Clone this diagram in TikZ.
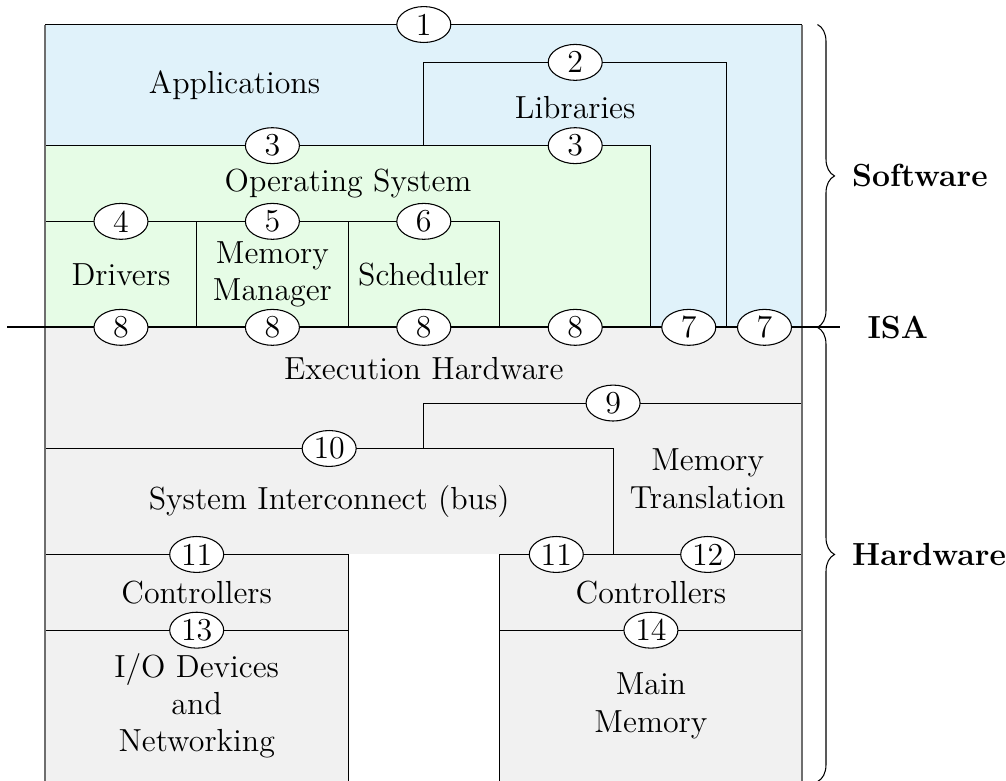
\documentclass[tikz,border=0pt]{standalone}
\usetikzlibrary{shapes.geometric,decorations.pathreplacing}
\definecolor{swblue}{RGB}{224,242,250}
\definecolor{osgreen}{RGB}{230,252,230}
\definecolor{hwgray}{RGB}{241,241,241}
\definecolor{rimgray}{RGB}{110,110,110}
\newcommand\picfont{\fontsize{12}{14}\selectfont}
\begin{document}
\begin{tikzpicture}[x=2cm,y=-2cm,font=\picfont,
  num/.style={ellipse,draw,fill=white,line width=0.4pt,inner sep=0pt,
              minimum width=20.3pt,minimum height=13.5pt},
  part/.style={align=center,inner sep=0pt},
  border/.style={line width=0.4pt},
  rim/.style={rimgray,line width=0.75pt},
  isa/.style={line width=0.8pt},
  side/.style={decorate,decoration={brace,amplitude=6.4pt},line width=0.4pt},
  tag/.style={font=\picfont\bfseries,inner sep=0pt}]
\useasboundingbox (-0.299,-0.162) rectangle (6.345,4.99);

% layer fills
\fill[swblue]  (0,0)   rectangle (5,2);
\fill[osgreen] (0,0.8) rectangle (4,2);
\fill[hwgray]  (0,2)   rectangle (5,5);
\fill[white]   (2,3.5) rectangle (3,5);

% software borders
\draw[border] (0,0) -- (5,0);
\draw[border] (2.5,0.8) |- (4.5,0.25) -- (4.5,2);
\draw[border] (0,0.8) -| (4,2);
\draw[border] (0,1.3) -| (3,2);
\draw[border] (1,1.3) -- (1,2) (2,1.3) -- (2,2);

% hardware borders
\draw[border] (2.5,2.8) |- (5,2.5);
\draw[border] (0,2.8) -| (3.75,3.5);
\draw[border] (0,3.5) -| (2,5);
\draw[border] (5,3.5) -| (3,5);
\draw[border] (0,4) -- (2,4) (3,4) -- (5,4);

% outer sides and the ISA line
\draw[rim] (0,0) -- (0,5) (5,0) -- (5,5);
\coordinate (isaL) at (-0.25,2);
\coordinate (isaR) at (5.25,2);
\draw[isa] (isaL) -- (isaR);

% interface numbers
\node[num] (n1)  at (2.5,0)    {1};
\node[num] (n2)  at (3.5,0.25) {2};
\node[num] (n3a) at (1.5,0.8)  {3};
\node[num] (n3b) at (3.5,0.8)  {3};
\node[num] (n4)  at (0.5,1.3)  {4};
\node[num] (n5)  at (1.5,1.3)  {5};
\node[num] (n6)  at (2.5,1.3)  {6};
\node[num] (n8a) at (0.5,2)    {8};
\node[num] (n8b) at (1.5,2)    {8};
\node[num] (n8c) at (2.5,2)    {8};
\node[num] (n8d) at (3.5,2)    {8};
\node[num] (n7a) at (4.25,2)   {7};
\node[num] (n7b) at (4.75,2)   {7};
\node[num] (n9)  at (3.75,2.5) {9};
\node[num] (n10) at (1.875,2.8) {10};
\node[num] (n11a) at (1,3.5)    {11};
\node[num] (n11b) at (3.375,3.5) {11};
\node[num] (n12) at (4.375,3.5) {12};
\node[num] (n13) at (1,4)      {13};
\node[num] (n14) at (4,4)      {14};

% layer names
\node[part] (apps)  at (1.25,0.4)  {Applications};
\node[part] (libs)  at (3.5,0.55)  {Libraries};
\node[part] (os)    at (2,1.05)    {Operating System};
\node[part] (drv)   at (0.5,1.65)  {Drivers};
\node[part] (mm)    at (1.5,1.65)  {Memory\\Manager};
\node[part] (sched) at (2.5,1.65)  {Scheduler};
\node[part] (exec)  at (2.5,2.27)  {Execution Hardware};
\node[part] (bus)   at (1.875,3.15) {System Interconnect (bus)};
\node[part] (mt)    at (4.375,3.0) {Memory\\Translation};
\node[part] (ctlL)  at (1,3.75)    {Controllers};
\node[part] (ctlR)  at (4,3.75)    {Controllers};
\node[part] (io)    at (1,4.5)     {I/O Devices\\and\\Networking};
\node[part] (mem)   at (4,4.5)     {Main\\Memory};

% braces and their labels
\coordinate (swTop) at (5.1,0);
\coordinate (swBot) at (5.1,2);
\coordinate (hwBot) at (5.1,5);
\draw[side] (swTop) -- (swBot);
\draw[side] (swBot) -- (hwBot);
\node[tag,anchor=west] (sw)  at (5.326,1)   {Software};
\node[tag,anchor=west] (hw)  at (5.326,3.5) {Hardware};
\node[tag] (isaT) at (5.63,2) {ISA};
\end{tikzpicture}
\end{document}
